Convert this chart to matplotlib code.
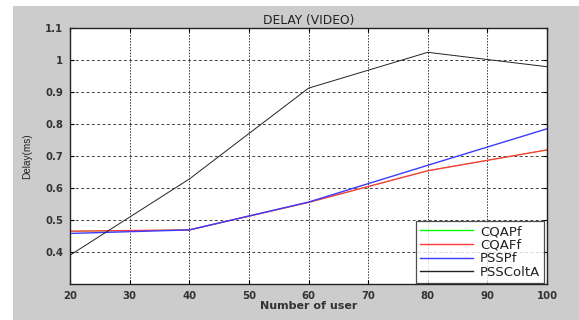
import matplotlib
matplotlib.use("Agg")
import matplotlib.pyplot as plt
from matplotlib.patches import Rectangle

plt.rcParams['font.family'] = ['DejaVu Sans']

users = [20, 40, 60, 80, 100]
cqapf = [0.465, 0.469, 0.555, 0.654, 0.719]
cqaff = [0.465, 0.469, 0.555, 0.654, 0.719]
psspf = [0.458, 0.469, 0.556, 0.671, 0.785]
psscolta = [0.39, 0.628, 0.912, 1.024, 0.979]

W, H = 579, 320
fig = plt.figure(figsize=(W / 100, H / 100), dpi=100)
fig.patch.set_facecolor('white')
fig.patches.append(Rectangle((13 / W, 0), 1 - 13 / W, 1 - 6 / H, transform=fig.transFigure,
                             facecolor='#cccccc', edgecolor='none', zorder=-10))

ax = fig.add_axes([70 / W, 1 - 284 / H, (547 - 70) / W, (284 - 28) / H])
ax.set_facecolor('white')

ax.plot(users, cqapf, color='#00ff00', lw=0.5, label='CQAPf')
ax.plot(users, cqaff, color='#ff3b3b', lw=1.0, label='CQAFf')
ax.plot(users, psspf, color='#3b3bff', lw=1.0, label='PSSPf')
ax.plot(users, psscolta, color='#222222', lw=0.7, label='PSSColtA')

ax.set_xlim(20, 100)
ax.set_ylim(0.3, 1.1)
ax.set_xticks(range(20, 101, 10))
ax.set_yticks([0.4, 0.5, 0.6, 0.7, 0.8, 0.9, 1.0, 1.1])
ax.set_yticklabels(['0.4', '0.5', '0.6', '0.7', '0.8', '0.9', '1', '1.1'])
ax.xaxis.grid(True, color='#333333', linestyle=(0, (1.5, 1.5)), linewidth=0.7)
ax.yaxis.grid(True, color='#444444', linestyle=(0, (3, 2.5)), linewidth=0.7)
ax.tick_params(direction='in', top=True, right=True, length=3, labelsize=7.3,
               labelcolor='#333333', pad=5)
for lab in ax.get_xticklabels() + ax.get_yticklabels():
    lab.set_fontweight('bold')
for s in ax.spines.values():
    s.set_linewidth(1.0)
    s.set_color('#222222')

ax.set_title('DELAY (VIDEO)', fontsize=8.8, color='#222222', pad=3)
ax.set_xlabel('Number of user', fontsize=8, fontweight='bold', color='#333333', labelpad=0)
ax.set_ylabel('Delay(ms)', fontsize=7.2, color='#222222', labelpad=9, family='Liberation Sans')

leg = ax.legend(loc='lower right', bbox_to_anchor=((544 - 70) / 477, 1 / 256),
                borderaxespad=0, fontsize=9.5, frameon=True, fancybox=False,
                handlelength=4.0, labelspacing=0.05, borderpad=0.3, handletextpad=0.5)
leg.get_frame().set_edgecolor('#222222')
leg.get_frame().set_linewidth(0.9)
for h in leg.get_lines():
    h.set_linewidth(1.0)
for t in leg.get_texts():
    t.set_color('#222222')

fig.savefig('out.png', dpi=100)
